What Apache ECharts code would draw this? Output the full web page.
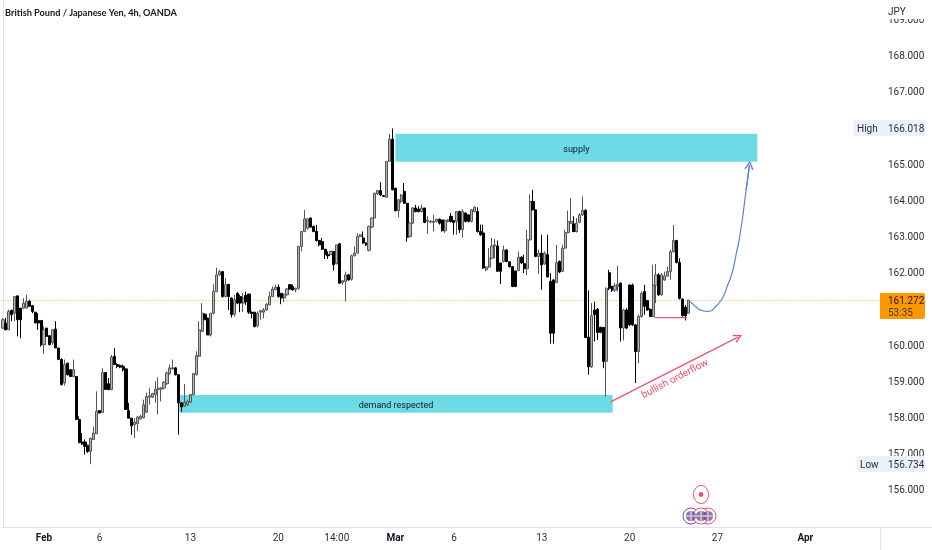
<!DOCTYPE html>
<html><head><meta charset="utf-8">
<style>html,body{margin:0;padding:0;background:#fff}#c{width:932px;height:550px;filter:blur(0.35px)}</style>
<script src="https://cdn.jsdelivr.net/npm/echarts@6/dist/echarts.min.js"></script>
</head><body><div id="c"></div>
<script>
const title = 'British Pound / Japanese Yen, 4h, OANDA';
const slotCount = 300;
const tickSlots = [14,33,64,94,114,134,154,184,214,244,274];
const tickLabels = ['Feb','6','13','20','14:00','Mar','6','13','20','27','Apr'];
const boldTicks = ['Feb','Mar','Apr'];
const hiddenPriceTicks = [155,161,166];

const opens = [160.50,160.64,160.45,160.99,160.91,161.39,161.05,161.05,161.05,161.24,
161.12,160.94,160.71,160.71,160.04,160.50,160.29,160.09,160.47,159.95,
159.63,158.98,159.53,159.35,159.16,159.16,157.97,157.35,157.35,157.26,
157.09,157.42,157.58,158.22,158.17,159.27,158.96,158.80,159.72,159.49,
159.46,159.44,159.37,158.22,158.01,157.83,157.86,157.99,158.02,158.17,
158.59,158.59,158.66,158.80,158.81,158.84,158.96,159.24,159.37,159.40,
159.21,158.43,158.34,158.38,158.45,158.66,159.21,159.72,160.41,160.88,
160.77,160.31,160.91,161.51,161.97,162.06,161.37,161.71,161.33,160.88,
161.46,161.37,161.19,161.40,161.44,160.94,160.94,160.56,160.94,160.94,
161.00,161.14,161.37,161.56,161.63,161.46,161.33,161.42,161.70,161.65,
161.56,161.60,162.76,163.17,163.26,163.54,163.31,163.17,162.92,162.89,
162.68,162.53,162.53,162.62,162.28,162.83,161.76,161.79,161.97,161.85,
162.50,162.57,163.03,162.99,162.85,162.65,163.29,163.54,164.21,164.30,
164.16,164.12,165.11,165.72,164.37,163.75,164.00,164.28,163.95,163.03,
163.40,163.82,163.79,163.72,163.82,163.45,163.43,163.42,163.45,163.51,
163.49,163.19,163.45,163.59,163.47,163.45,163.72,163.22,163.68,163.63,
163.45,163.72,163.72,163.17,163.13,162.11,162.19,162.43,162.77,162.77,
162.30,162.34,162.66,162.33,162.20,162.08,162.09,162.46,162.28,162.14,
162.94,164.00,163.77,162.48,162.57,162.27,162.53,161.79,161.83,161.76,
162.34,162.07,162.71,163.14,163.40,163.38,163.17,163.42,163.63,163.75,
160.25,159.43,161.00,161.02,160.52,160.52,159.58,162.03,161.65,161.55,
161.65,161.74,160.50,161.00,161.69,161.69,160.59,159.85,160.82,161.51,
161.26,161.02,160.82,161.69,161.97,161.42,161.83,161.94,162.06,162.61,
162.92,162.31,161.30,161.08,160.91];
const closes = [160.73,160.45,160.96,160.87,161.37,160.73,160.73,161.19,161.24,161.10,
160.96,160.64,160.64,160.04,160.45,160.27,160.04,160.45,159.95,159.63,
158.94,159.49,159.21,159.16,159.35,157.97,157.33,157.30,157.23,157.09,
157.46,157.60,158.20,158.15,159.27,158.80,158.80,159.70,159.49,159.44,
159.42,159.35,158.25,158.01,157.80,157.90,158.04,158.06,158.38,158.61,
158.63,158.69,158.81,158.84,158.84,159.00,159.26,159.40,159.40,159.21,
158.43,158.32,158.45,158.47,158.66,159.24,159.74,160.45,160.91,160.73,
160.31,160.91,161.51,161.97,162.06,161.37,161.70,161.37,160.87,161.28,
161.19,161.19,161.33,161.23,160.94,160.90,160.54,160.91,160.98,161.00,
161.16,161.37,161.58,161.63,161.37,161.33,161.44,161.58,161.58,161.56,
161.60,162.76,163.17,163.52,163.52,163.29,163.17,162.92,162.80,162.68,
162.53,162.50,162.62,162.25,162.80,161.74,161.81,161.97,161.83,162.50,
162.57,163.03,163.08,162.85,162.80,163.31,163.54,164.23,164.30,164.18,
164.14,165.11,165.72,164.32,163.75,164.05,164.18,163.95,163.01,163.40,
163.82,163.72,163.72,163.82,163.42,163.48,163.45,163.45,163.51,163.40,
163.19,163.48,163.49,163.45,163.42,163.72,163.22,163.72,163.45,163.45,
163.77,163.84,163.17,163.08,162.16,162.19,162.43,162.77,162.80,162.07,
162.07,162.66,162.34,162.20,161.65,161.65,162.46,162.30,162.14,162.94,
164.00,163.77,162.48,162.57,162.25,162.57,161.91,160.36,160.36,162.31,
162.05,162.71,163.14,163.45,163.45,163.17,163.40,163.63,163.75,160.24,
159.43,160.84,160.87,160.38,160.38,159.58,161.60,161.60,161.55,161.67,
161.71,160.50,161.00,160.50,160.59,160.59,159.85,160.82,161.46,161.10,
161.00,160.82,161.69,161.97,161.42,161.97,161.94,162.06,162.61,162.92,
162.31,161.32,160.84,160.84,161.27];
const lows = [160.47,160.45,160.45,160.69,160.69,160.27,160.22,161.03,161.05,161.10,
160.91,160.64,160.45,159.99,159.79,160.27,160.02,160.04,159.95,159.63,
158.91,158.91,159.19,159.16,159.14,157.97,157.33,157.27,157.00,157.05,
156.734,157.40,157.58,158.15,158.15,158.80,158.78,158.78,159.49,159.39,
159.39,159.30,158.25,158.01,157.55,157.46,157.65,157.97,158.00,158.17,
158.38,158.56,158.43,158.11,158.47,158.81,158.93,159.21,159.35,159.19,
157.55,158.18,158.32,158.35,158.43,158.64,159.19,159.70,160.39,160.73,
160.31,160.27,160.88,161.49,161.95,161.34,161.35,161.00,160.79,160.82,
161.16,160.94,160.94,161.14,160.89,160.77,160.52,160.52,160.73,160.77,
160.98,161.14,161.37,161.55,161.34,161.16,161.22,161.40,161.56,161.53,
161.49,161.56,162.62,163.15,163.22,163.29,163.15,162.89,162.76,162.66,
162.41,162.41,162.53,162.09,162.26,161.74,161.70,161.24,161.81,161.81,
162.48,162.57,163.01,162.83,162.77,162.62,163.26,163.54,164.18,164.15,
164.12,164.10,165.09,164.32,163.72,163.56,163.95,163.93,162.89,163.01,
163.38,163.70,163.70,163.70,163.40,163.11,163.40,163.17,163.42,163.36,
163.17,163.13,163.42,163.42,163.08,163.08,163.13,163.00,163.42,163.42,
163.42,163.70,163.14,163.05,162.14,162.07,162.16,162.41,162.43,162.05,
161.72,162.31,162.32,162.17,161.63,161.63,162.07,162.27,162.02,161.97,
162.92,163.75,162.46,162.00,161.56,162.25,161.91,160.07,160.07,161.74,
162.02,162.05,162.69,163.12,163.38,163.15,163.14,163.40,163.60,160.22,
159.21,159.40,160.13,160.17,160.36,159.39,158.61,161.55,161.50,161.50,
161.51,160.13,160.16,160.47,160.56,160.56,158.98,159.53,160.79,160.87,
160.98,160.80,160.80,161.19,161.39,161.39,161.81,161.92,161.83,162.59,
162.29,161.29,160.82,160.71,160.89];
const highs = [160.78,160.78,161.01,161.01,161.39,161.39,161.05,161.33,161.42,161.28,
161.14,160.94,160.91,160.71,160.55,160.50,160.29,160.47,160.69,159.95,
159.67,159.63,159.53,159.35,159.63,159.16,158.06,157.60,157.42,157.26,
157.46,157.78,158.75,158.22,159.39,159.27,159.12,159.76,159.95,159.53,
159.49,159.49,159.37,158.43,158.01,158.01,158.06,158.10,158.52,158.71,
158.84,158.71,159.03,159.14,158.87,159.03,159.30,159.49,159.63,159.42,
159.21,158.45,158.95,158.52,158.68,159.26,159.86,160.69,161.19,160.91,
160.79,160.91,161.71,162.17,162.11,162.08,161.88,161.71,161.35,161.42,
161.49,161.42,161.47,161.51,161.44,160.96,160.94,160.96,161.00,161.05,
161.19,161.51,161.65,161.70,161.71,161.46,161.44,161.60,161.71,161.70,
161.62,162.76,163.17,163.77,163.54,163.56,163.33,163.35,162.94,162.99,
162.68,162.62,162.64,162.62,162.80,162.85,161.83,162.06,162.00,162.53,
162.76,163.12,163.10,163.17,162.87,163.33,163.56,164.23,164.32,164.53,
164.18,165.11,165.87,166.018,164.37,164.05,164.21,164.51,163.95,163.42,
163.85,163.91,163.87,163.91,163.82,163.59,163.49,163.63,163.53,163.53,
163.49,163.50,163.51,163.68,163.49,163.72,163.75,163.79,163.70,163.63,
163.79,163.86,163.84,163.36,163.36,162.21,162.71,162.99,162.96,162.92,
162.30,162.78,162.68,162.35,162.20,162.08,162.62,162.48,162.53,163.22,
164.19,164.32,163.77,162.67,163.08,162.62,163.08,162.02,161.85,162.80,
162.37,162.80,163.22,163.75,164.09,163.59,163.54,163.68,164.14,163.79,
161.54,161.19,161.23,161.05,160.54,160.52,161.62,162.11,161.67,161.75,
162.22,161.76,161.03,161.05,161.71,161.73,160.61,160.87,161.51,161.70,
161.28,161.05,162.25,162.27,162.02,162.02,162.06,162.20,162.66,163.35,
162.94,162.43,161.33,161.14,161.28];

const lastPrice = 161.272;
const countdown = '53:35';
const highValue = 166.018;
const lowValue = 156.734;
const supplyX = [134,257.6];
const supplyY = [165.10,165.87];
const demandX = [60.2,208.2];
const demandY = [158.16,158.65];
const projectionX = [234.75,237.0,238.5,240.5,241.9,243.3,244.6,246,247.4,249,250.4,251.8,253.8,254.9];
const projectionY = [161.23,161.06,160.99,160.96,160.98,161.09,161.20,161.37,161.67,162.03,162.55,163.13,164.32,165.00];
const flowX = [207.5,251.0];
const flowY = [158.46,160.25];
const swingX = [222.5,233.6];
const swingY = [160.79,160.79];

const FONT = 'Roboto, Inter, "Liberation Sans", sans-serif';
const TXT = '#2a2e39';
const TEAL = '#6cdbe6';
const RED = '#e8546b';
const BLUE = '#5b84d6';
const CHEV = 'path://M5,0 L10,9 L8.7,10 L5,3 L1.3,10 L0,9 Z';

const chart = echarts.init(document.getElementById('c'), null, {renderer:'canvas'});
const candles = opens.map((o,i)=>[o,closes[i],lows[i],highs[i]]);
const slots = Array.from({length:slotCount},(_,i)=>String(i));
const tickMap = {};
tickSlots.forEach((s,i)=>{tickMap[s]=tickLabels[i];});

function flag(cx,cy,ringColor){
  return [
    {type:'circle',z:101,shape:{cx,cy,r:8},style:{fill:'#fff',stroke:ringColor,lineWidth:1}},
    {type:'circle',z:102,shape:{cx,cy,r:5.2},style:{fill:'#3d4a9a',opacity:.7}},
    {type:'line',z:103,shape:{x1:cx-5,y1:cy,x2:cx+5,y2:cy},style:{stroke:'#f0b4bc',lineWidth:1.6}},
    {type:'line',z:103,shape:{x1:cx,y1:cy-5,x2:cx,y2:cy+5},style:{stroke:'#f0b4bc',lineWidth:1.6}}
  ];
}

chart.setOption({
  animation:false,
  backgroundColor:'#fff',
  title:{text:title,left:5,top:9,padding:0,textStyle:{fontFamily:'Lato, sans-serif',fontWeight:'bold',fontSize:9.2,color:'#131722'}},
  grid:{left:0,top:0,width:880,height:527,containLabel:false},
  xAxis:[{
    type:'category',data:slots,boundaryGap:true,
    axisLine:{show:true,lineStyle:{color:'#e0e3eb'}},axisTick:{show:false},splitLine:{show:false},
    axisLabel:{interval:0,margin:6,hideOverlap:false,fontFamily:FONT,fontSize:10,color:TXT,
      formatter:(v)=>{const t=tickMap[v];if(t===undefined)return '';return boldTicks.includes(t)?'{b|'+t+'}':t;},
      rich:{b:{fontFamily:FONT,fontSize:10,fontWeight:'bold',color:'#131722'}}}
  },{
    type:'value',min:-0.5,max:slotCount-0.5,show:false
  }],
  yAxis:{
    type:'value',position:'right',min:155,max:169.57,interval:1,
    axisLine:{show:true,lineStyle:{color:'#e0e3eb'}},axisTick:{show:false},splitLine:{show:false},
    axisLabel:{margin:8,padding:[3,0,0,0],fontFamily:FONT,fontSize:10,color:TXT,showMinLabel:false,
      formatter:(v)=>(Number.isInteger(v)&&!hiddenPriceTicks.includes(v)&&v<=169)?v.toFixed(3):''}
  },
  series:[
    {type:'line',xAxisIndex:1,data:[],silent:true,z:1,
      markArea:{silent:true,z:1,itemStyle:{color:TEAL,opacity:1},
        label:{show:true,position:'inside',offset:[0,2],color:'#131722',fontFamily:FONT,fontSize:9},
        data:[
          [{name:'supply',coord:[supplyX[0],supplyY[1]]},{coord:[supplyX[1],supplyY[0]]}],
          [{name:'demand respected',coord:[demandX[0],demandY[1]]},{coord:[demandX[1],demandY[0]]}]
        ]},
      markLine:{silent:true,symbol:'none',z:1,label:{show:false},
        lineStyle:{color:'#ff9800',type:[1,2],width:1,opacity:.75},
        data:[[{coord:[-0.5,lastPrice]},{coord:[slotCount-0.5,lastPrice]}]]}
    },
    {type:'candlestick',name:'GBPJPY',xAxisIndex:0,data:candles,barWidth:2.6,z:3,silent:true,
      itemStyle:{color:'#b4b4b4',color0:'#000',borderColor:'#555',borderColor0:'#000',borderWidth:1}},
    {type:'line',xAxisIndex:1,z:4,silent:true,showSymbol:false,smooth:0.5,
      data:projectionX.map((x,i)=>[x,projectionY[i]]),lineStyle:{color:BLUE,width:1.2},
      markLine:{silent:true,z:4,symbol:['none',CHEV],symbolSize:9,label:{show:false},
        lineStyle:{color:BLUE,width:1.2,type:'solid'},
        data:[[{coord:[projectionX[12],projectionY[12]]},{coord:[projectionX[13],projectionY[13]]}]]}},
    {type:'line',xAxisIndex:1,z:4,silent:true,showSymbol:false,
      data:swingX.map((x,i)=>[x,swingY[i]]),lineStyle:{color:RED,width:1.3}},
    {type:'line',xAxisIndex:1,z:4,silent:true,showSymbol:false,data:[],
      markLine:{silent:true,z:4,symbol:['none',CHEV],symbolSize:9,label:{show:false},
        lineStyle:{color:RED,width:1.2,type:'solid'},
        data:[[{coord:[flowX[0],flowY[0]]},{coord:[flowX[1],flowY[1]]}]]}}
  ],
  graphic:{elements:[
    {type:'line',z:100,shape:{x1:880,y1:527.5,x2:932,y2:527.5},style:{stroke:'#e0e3eb'}},
    {type:'line',z:100,shape:{x1:880.5,y1:527,x2:880.5,y2:550},style:{stroke:'#e0e3eb'}},
    {type:'rect',z:100,shape:{x:882,y:0,width:50,height:19},style:{fill:'#fff'}},
    {type:'text',z:101,x:888,y:7,style:{text:'JPY',font:'10px '+FONT,fill:TXT}},
    {type:'rect',z:100,shape:{x:853,y:120,width:33,height:16,r:[2,0,0,2]},style:{fill:'#ebf1fb'}},
    {type:'rect',z:100,shape:{x:886,y:120,width:39,height:16,r:[0,2,2,0]},style:{fill:'#ebf1fb'}},
    {type:'text',z:101,x:857,y:124,style:{text:'High',font:'10px '+FONT,fill:TXT}},
    {type:'text',z:101,x:888,y:124,style:{text:highValue.toFixed(3),font:'10px '+FONT,fill:TXT}},
    {type:'rect',z:100,shape:{x:857,y:456,width:29,height:16,r:[2,0,0,2]},style:{fill:'#ebf1fb'}},
    {type:'rect',z:100,shape:{x:886,y:456,width:39,height:16,r:[0,2,2,0]},style:{fill:'#ebf1fb'}},
    {type:'text',z:101,x:860,y:460,style:{text:'Low',font:'10px '+FONT,fill:TXT}},
    {type:'text',z:101,x:888,y:460,style:{text:lowValue.toFixed(3),font:'10px '+FONT,fill:TXT}},
    {type:'rect',z:100,shape:{x:880,y:293,width:45,height:26,r:[0,2,2,0]},style:{fill:'#ff9800'}},
    {type:'text',z:101,x:888,y:296,style:{text:lastPrice.toFixed(3),font:'10px '+FONT,fill:'#1a1a1a'}},
    {type:'text',z:101,x:888,y:308,style:{text:countdown,font:'10px '+FONT,fill:'#4a3a10'}},
    {type:'text',z:50,x:675,y:379,rotation:0.48,style:{text:'bullish orderflow',font:'10px '+FONT,fill:RED,align:'center',verticalAlign:'middle'}},
    {type:'ellipse',z:101,shape:{cx:701,cy:494.5,rx:7.5,ry:9},style:{fill:'#fff',stroke:RED,lineWidth:1}},
    {type:'circle',z:102,shape:{cx:701,cy:494.5,r:2.4},style:{fill:RED}},
    ...flag(691,516,'#8a3fb5'),
    ...flag(708,516,RED),
    ...flag(701,516,RED)
  ]}
});
</script></body></html>
